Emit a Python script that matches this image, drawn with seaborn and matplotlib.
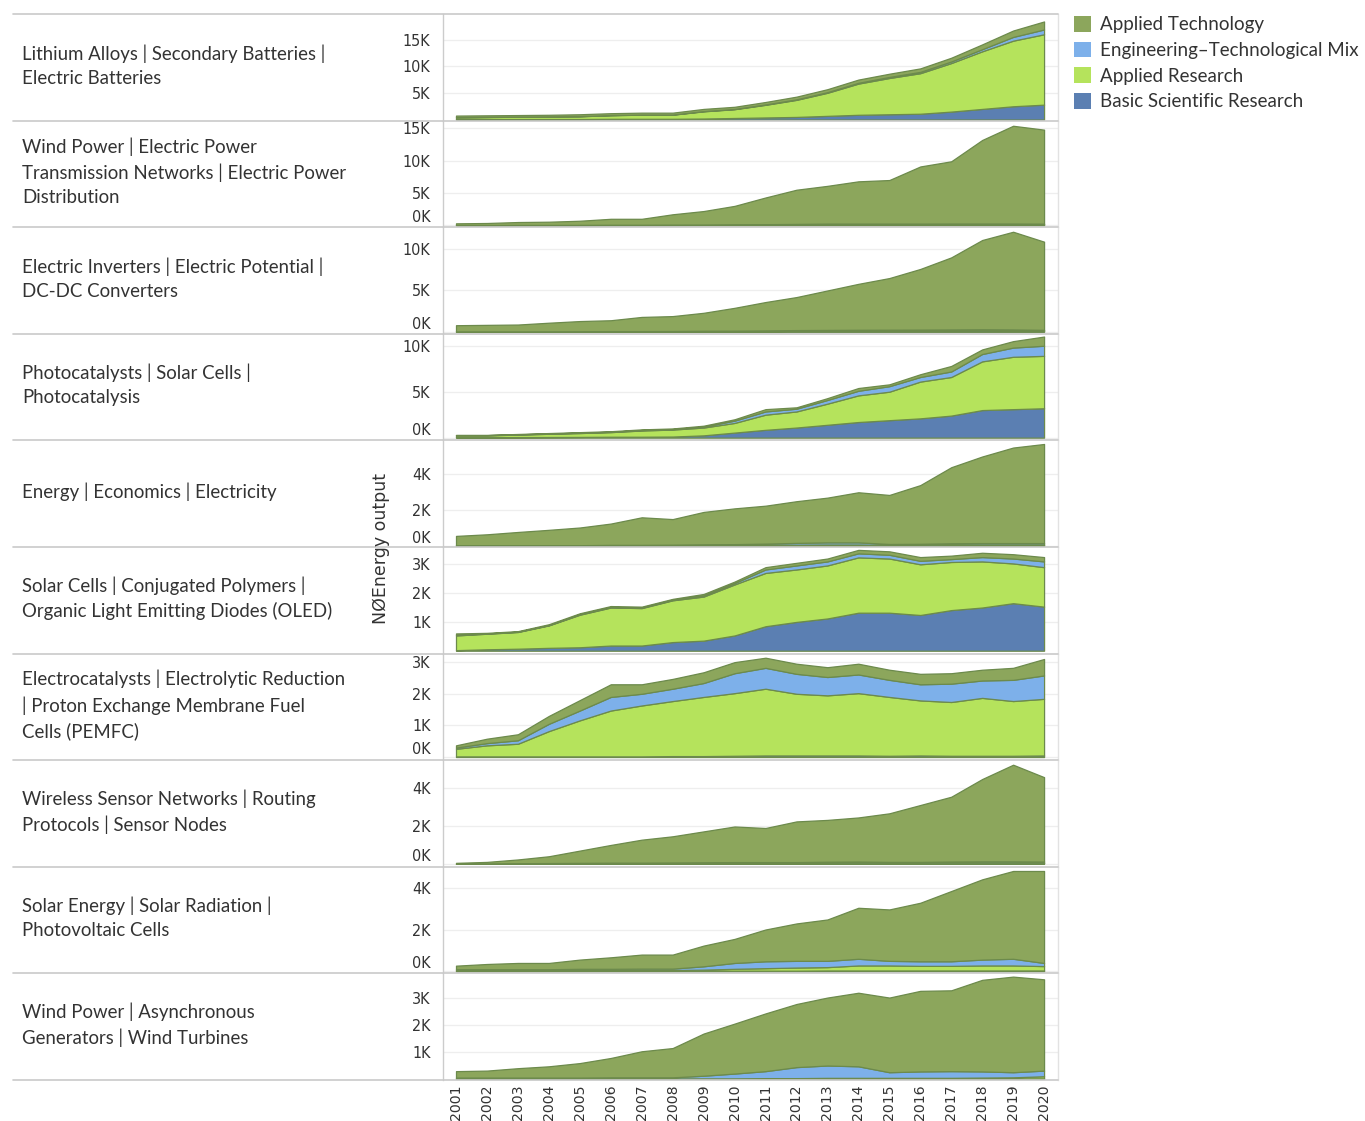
import numpy as np
import matplotlib
matplotlib.use("Agg")
import matplotlib.pyplot as plt
import matplotlib.transforms as mtransforms
import seaborn as sns
from matplotlib.lines import Line2D
from matplotlib.patches import Patch

# ---------------- data (values in thousands) ----------------
years = list(range(2001, 2021))
year_labels = [str(y) for y in years]

series_names = ["Basic Scientific Research", "Applied Research",
                "Engineering–Technological Mix", "Applied Technology"]
series_colors = ["#5B7FB2", "#B5E35C", "#7DB0EA", "#8CA65C"]

topics = [
    "Lithium Alloys | Secondary Batteries |\nElectric Batteries",
    "Wind Power | Electric Power\nTransmission Networks | Electric Power\nDistribution",
    "Electric Inverters | Electric Potential |\nDC-DC Converters",
    "Photocatalysts | Solar Cells |\nPhotocatalysis",
    "Energy | Economics | Electricity",
    "Solar Cells | Conjugated Polymers |\nOrganic Light Emitting Diodes (OLED)",
    "Electrocatalysts | Electrolytic Reduction\n| Proton Exchange Membrane Fuel\nCells (PEMFC)",
    "Wireless Sensor Networks | Routing\nProtocols | Sensor Nodes",
    "Solar Energy | Solar Radiation |\nPhotovoltaic Cells",
    "Wind Power | Asynchronous\nGenerators | Wind Turbines",
]

p1_basic = [0.1, 0.1, 0.1, 0.1, 0.1, 0.15, 0.15, 0.15, 0.2, 0.3, 0.4, 0.5, 0.7, 0.9, 1.0, 1.1, 1.5, 2.0, 2.5, 2.8]
p1_research = [0.33, 0.38, 0.43, 0.48, 0.52, 0.67, 0.77, 0.77, 1.35, 1.65, 2.37, 3.2, 4.33, 5.85, 6.8, 7.6, 9.1, 10.8, 12.3, 13.2]
p1_mix = [0.02, 0.02, 0.02, 0.02, 0.03, 0.03, 0.03, 0.03, 0.05, 0.05, 0.08, 0.1, 0.12, 0.15, 0.2, 0.25, 0.3, 0.4, 0.7, 0.9]
p1_tech = [0.3, 0.3, 0.3, 0.3, 0.35, 0.35, 0.35, 0.35, 0.4, 0.4, 0.45, 0.5, 0.55, 0.6, 0.6, 0.65, 0.7, 0.9, 1.2, 1.5]

p2_basic = [0.02, 0.02, 0.03, 0.03, 0.03, 0.04, 0.04, 0.05, 0.06, 0.07, 0.08, 0.1, 0.12, 0.12, 0.12, 0.12, 0.12, 0.12, 0.12, 0.1]
p2_research = [0.01, 0.01, 0.01, 0.01, 0.01, 0.02, 0.02, 0.02, 0.02, 0.03, 0.03, 0.03, 0.04, 0.04, 0.04, 0.04, 0.05, 0.05, 0.05, 0.05]
p2_mix = [0.01, 0.01, 0.01, 0.01, 0.02, 0.02, 0.02, 0.03, 0.03, 0.05, 0.06, 0.08, 0.1, 0.1, 0.1, 0.1, 0.1, 0.1, 0.1, 0.1]
p2_tech = [0.26, 0.31, 0.45, 0.5, 0.64, 0.92, 0.92, 1.6, 2.09, 2.85, 4.13, 5.29, 5.84, 6.54, 6.74, 8.84, 9.63, 12.93, 15.13, 14.55]

p3_basic = [0.03, 0.03, 0.03, 0.04, 0.04, 0.05, 0.05, 0.06, 0.07, 0.08, 0.1, 0.12, 0.13, 0.14, 0.15, 0.15, 0.16, 0.17, 0.15, 0.12]
p3_research = [0.01, 0.01, 0.01, 0.01, 0.02, 0.02, 0.02, 0.02, 0.03, 0.03, 0.03, 0.04, 0.04, 0.05, 0.05, 0.05, 0.05, 0.06, 0.06, 0.05]
p3_mix = [0.01, 0.01, 0.01, 0.01, 0.01, 0.02, 0.02, 0.02, 0.03, 0.03, 0.04, 0.05, 0.06, 0.06, 0.06, 0.07, 0.08, 0.08, 0.08, 0.07]
p3_tech = [0.75, 0.79, 0.83, 1.04, 1.23, 1.31, 1.71, 1.8, 2.17, 2.76, 3.43, 3.99, 4.77, 5.55, 6.24, 7.33, 8.71, 10.79, 11.81, 10.66]

p4_basic = [0.05, 0.05, 0.06, 0.07, 0.08, 0.1, 0.1, 0.12, 0.25, 0.55, 0.85, 1.1, 1.4, 1.7, 1.9, 2.1, 2.4, 3.0, 3.1, 3.2]
p4_research = [0.2, 0.2, 0.27, 0.35, 0.42, 0.5, 0.68, 0.76, 0.85, 1.05, 1.65, 1.75, 2.3, 2.9, 3.1, 4.0, 4.2, 5.3, 5.7, 5.7]
p4_mix = [0.02, 0.02, 0.03, 0.03, 0.04, 0.04, 0.05, 0.05, 0.1, 0.25, 0.35, 0.3, 0.4, 0.5, 0.6, 0.5, 0.6, 0.8, 1.0, 1.1]
p4_tech = [0.03, 0.03, 0.04, 0.05, 0.06, 0.06, 0.07, 0.07, 0.1, 0.15, 0.25, 0.15, 0.2, 0.3, 0.2, 0.3, 0.6, 0.5, 0.7, 1.0]

p5_basic = [0.02, 0.02, 0.02, 0.02, 0.02, 0.03, 0.03, 0.03, 0.03, 0.03, 0.04, 0.04, 0.05, 0.05, 0.04, 0.04, 0.05, 0.05, 0.05, 0.05]
p5_research = [0.01, 0.01, 0.01, 0.01, 0.01, 0.01, 0.01, 0.01, 0.02, 0.02, 0.02, 0.03, 0.03, 0.03, 0.02, 0.02, 0.03, 0.03, 0.03, 0.03]
p5_mix = [0.01, 0.01, 0.01, 0.01, 0.01, 0.02, 0.02, 0.03, 0.04, 0.05, 0.07, 0.1, 0.12, 0.12, 0.05, 0.06, 0.07, 0.08, 0.08, 0.08]
p5_tech = [0.52, 0.61, 0.74, 0.86, 0.99, 1.19, 1.54, 1.43, 1.81, 2.0, 2.12, 2.33, 2.5, 2.8, 2.74, 3.28, 4.25, 4.84, 5.34, 5.54]

p6_basic = [0.02, 0.05, 0.07, 0.1, 0.12, 0.18, 0.18, 0.3, 0.35, 0.53, 0.85, 1.0, 1.12, 1.32, 1.32, 1.24, 1.41, 1.5, 1.65, 1.53]
p6_research = [0.51, 0.54, 0.58, 0.78, 1.13, 1.32, 1.3, 1.45, 1.53, 1.77, 1.85, 1.82, 1.84, 1.92, 1.88, 1.76, 1.67, 1.6, 1.38, 1.37]
p6_mix = [0.02, 0.01, 0.01, 0.01, 0.02, 0.02, 0.02, 0.02, 0.04, 0.05, 0.12, 0.14, 0.14, 0.14, 0.13, 0.12, 0.1, 0.15, 0.17, 0.2]
p6_tech = [0.05, 0.02, 0.02, 0.03, 0.03, 0.03, 0.03, 0.03, 0.05, 0.05, 0.08, 0.09, 0.1, 0.12, 0.12, 0.13, 0.12, 0.15, 0.15, 0.15]

p7_basic = [0.02, 0.02, 0.02, 0.02, 0.02, 0.02, 0.02, 0.03, 0.03, 0.04, 0.05, 0.05, 0.05, 0.05, 0.04, 0.05, 0.04, 0.04, 0.04, 0.05]
p7_research = [0.24, 0.35, 0.4, 0.8, 1.14, 1.45, 1.61, 1.74, 1.87, 1.98, 2.11, 1.95, 1.9, 1.97, 1.86, 1.74, 1.7, 1.83, 1.73, 1.79]
p7_mix = [0.04, 0.07, 0.11, 0.23, 0.31, 0.43, 0.37, 0.39, 0.44, 0.63, 0.66, 0.63, 0.58, 0.59, 0.54, 0.51, 0.58, 0.55, 0.67, 0.74]
p7_tech = [0.07, 0.14, 0.19, 0.25, 0.33, 0.4, 0.3, 0.31, 0.34, 0.35, 0.32, 0.32, 0.31, 0.34, 0.32, 0.33, 0.33, 0.34, 0.38, 0.52]

p8_basic = [0.0, 0.01, 0.01, 0.01, 0.02, 0.02, 0.02, 0.02, 0.03, 0.03, 0.03, 0.03, 0.03, 0.04, 0.03, 0.03, 0.04, 0.04, 0.04, 0.04]
p8_research = [0.0, 0.0, 0.01, 0.01, 0.01, 0.01, 0.01, 0.01, 0.01, 0.01, 0.01, 0.01, 0.02, 0.02, 0.02, 0.02, 0.02, 0.02, 0.02, 0.02]
p8_mix = [0.0, 0.01, 0.01, 0.02, 0.02, 0.03, 0.03, 0.04, 0.04, 0.05, 0.05, 0.05, 0.06, 0.06, 0.05, 0.05, 0.06, 0.07, 0.07, 0.06]
p8_tech = [0.05, 0.08, 0.2, 0.36, 0.65, 0.94, 1.22, 1.39, 1.64, 1.89, 1.81, 2.16, 2.22, 2.34, 2.58, 3.02, 3.44, 4.37, 5.13, 4.48]

p9_basic = [0.02, 0.02, 0.02, 0.02, 0.02, 0.02, 0.02, 0.02, 0.03, 0.03, 0.03, 0.03, 0.04, 0.04, 0.04, 0.04, 0.04, 0.04, 0.04, 0.04]
p9_research = [0.03, 0.03, 0.03, 0.03, 0.04, 0.04, 0.04, 0.04, 0.05, 0.09, 0.12, 0.15, 0.16, 0.24, 0.24, 0.22, 0.22, 0.24, 0.24, 0.21]
p9_mix = [0.05, 0.05, 0.05, 0.05, 0.06, 0.06, 0.07, 0.07, 0.16, 0.28, 0.33, 0.32, 0.3, 0.32, 0.22, 0.22, 0.22, 0.28, 0.32, 0.15]
p9_tech = [0.17, 0.25, 0.3, 0.3, 0.44, 0.55, 0.67, 0.67, 0.99, 1.15, 1.52, 1.79, 1.98, 2.44, 2.46, 2.8, 3.36, 3.84, 4.2, 4.4]

p10_basic = [0.01, 0.01, 0.01, 0.01, 0.01, 0.01, 0.01, 0.01, 0.01, 0.01, 0.02, 0.02, 0.02, 0.02, 0.02, 0.02, 0.02, 0.02, 0.02, 0.02]
p10_research = [0.01, 0.01, 0.01, 0.01, 0.01, 0.01, 0.01, 0.01, 0.01, 0.01, 0.01, 0.01, 0.02, 0.02, 0.02, 0.02, 0.02, 0.03, 0.04, 0.08]
p10_mix = [0.03, 0.03, 0.03, 0.03, 0.03, 0.04, 0.04, 0.04, 0.1, 0.18, 0.26, 0.41, 0.46, 0.43, 0.21, 0.24, 0.25, 0.23, 0.19, 0.21]
p10_tech = [0.24, 0.26, 0.35, 0.42, 0.54, 0.72, 0.97, 1.09, 1.57, 1.86, 2.15, 2.35, 2.53, 2.74, 2.78, 3.0, 3.01, 3.41, 3.56, 3.4]

panel_data = [
    (p1_basic, p1_research, p1_mix, p1_tech),
    (p2_basic, p2_research, p2_mix, p2_tech),
    (p3_basic, p3_research, p3_mix, p3_tech),
    (p4_basic, p4_research, p4_mix, p4_tech),
    (p5_basic, p5_research, p5_mix, p5_tech),
    (p6_basic, p6_research, p6_mix, p6_tech),
    (p7_basic, p7_research, p7_mix, p7_tech),
    (p8_basic, p8_research, p8_mix, p8_tech),
    (p9_basic, p9_research, p9_mix, p9_tech),
    (p10_basic, p10_research, p10_mix, p10_tech),
]

panel_ticks = [[5, 10, 15], [0, 5, 10, 15], [0, 5, 10], [0, 5, 10], [0, 2, 4],
               [1, 2, 3], [0, 1, 2, 3], [0, 2, 4], [0, 2, 4], [1, 2, 3]]
panel_ylims = [(-0.19, 19.8), (-0.3, 16.2), (-0.24, 12.65), (-0.3, 11.3), (-0.06, 5.9),
               (-0.1, 3.6), (-0.1, 3.27), (-0.16, 5.5), (-0.1, 5.0), (-0.04, 3.93)]

# ---------------- styling ----------------
sns.set_theme(style="white")
plt.rcParams['font.family'] = ['DejaVu Sans']

W, H = 1365, 1121
fig = plt.figure(figsize=(W / 100, H / 100), dpi=100)
fig.patch.set_facecolor("white")

x_left, x_right = 443, 1058
bounds = np.linspace(14, 1080, 11)
text_color = "#333333"
edge_color = "#6C8A4C"
zero_shift = mtransforms.ScaledTranslation(0, 9 / 100, fig.dpi_scale_trans)

for i in range(10):
    top, bot = bounds[i], bounds[i + 1]
    ax = fig.add_axes([x_left / W, 1 - bot / H, (x_right - x_left) / W, (bot - top) / H])
    b, r, m, t = panel_data[i]
    ax.stackplot(years, b, r, m, t, colors=series_colors,
                 edgecolor=edge_color, linewidth=0.9)
    ax.set_xlim(2000.58, 2020.45)
    ax.set_ylim(*panel_ylims[i])
    ax.set_yticks(panel_ticks[i])
    ax.set_yticklabels([f"{v}K" for v in panel_ticks[i]])
    ax.yaxis.grid(True, color="#eeeeee", linewidth=0.9)
    ax.set_axisbelow(True)
    ax.set_xticks(years)
    ax.tick_params(axis="y", length=0, pad=9, labelsize=11.5, labelcolor=text_color)
    for v, lab in zip(panel_ticks[i], ax.get_yticklabels()):
        lab.set_fontstretch("condensed")
        if v == 0:
            lab.set_transform(lab.get_transform() + zero_shift)
    if i == 9:
        ax.set_xticklabels(year_labels, rotation=90)
        ax.tick_params(axis="x", length=0, pad=3, labelsize=10.2, labelcolor=text_color)
    else:
        ax.tick_params(axis="x", length=0, labelbottom=False)
    for side in ["top", "bottom"]:
        ax.spines[side].set_visible(False)
    ax.spines["left"].set_color("#cccccc")
    ax.spines["left"].set_linewidth(1.0)
    ax.spines["right"].set_color("#e2e2e2")
    ax.spines["right"].set_linewidth(1.0)

    # row label
    fig.text(22 / W, 1 - ((top + bot) / 2 - 2) / H, topics[i], ha="left", va="center",
             fontsize=13.4, family=["Lato", "DejaVu Sans"], color=text_color,
             linespacing=1.5)

# row separators
for yb in bounds:
    fig.add_artist(Line2D([13 / W, x_right / W], [1 - yb / H, 1 - yb / H],
                          color="#c9c9c9", linewidth=1.2, transform=fig.transFigure))

# axis title
fig.text(381 / W, 1 - 548 / H, "NØEnergy output", rotation=90, ha="center", va="center",
         fontsize=12.5, color=text_color)

# legend
order = [3, 2, 1, 0]
handles = [Patch(facecolor=series_colors[k], edgecolor="none", label=series_names[k]) for k in order]
fig.legend(handles=handles, loc="upper left", bbox_to_anchor=(1074 / W, 1 - 16 / H),
           frameon=False, prop={"family": ["Lato", "DejaVu Sans"], "size": 13.5},
           handlelength=0.9, handleheight=0.9, handletextpad=0.5,
           labelspacing=0.45, borderaxespad=0, borderpad=0, labelcolor=text_color)

fig.savefig("out.png", dpi=100)
